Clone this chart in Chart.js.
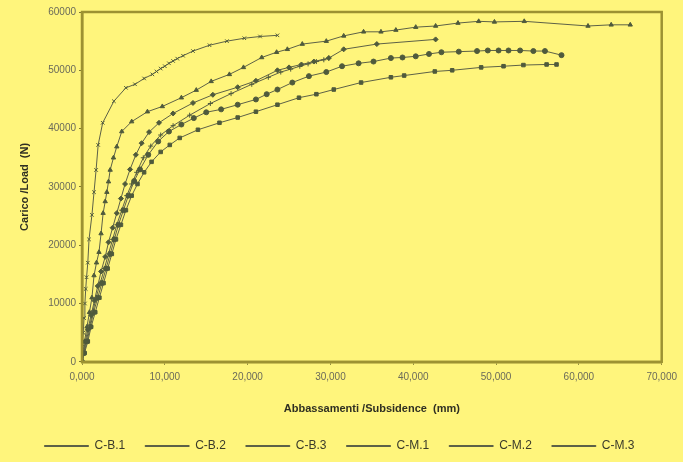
<!DOCTYPE html>
<html>
<head>
<meta charset="utf-8">
<script src="https://cdn.jsdelivr.net/npm/chart.js@4/dist/chart.umd.min.js"></script>
<style>
  html, body { margin: 0; padding: 0; background: #fff57c; }
  #wrap { width: 683px; height: 462px; }
</style>
</head>
<body>
<div id="wrap"><canvas id="loadChart" width="683" height="462"></canvas></div>
<script>
// Subsidence (mm) and load (N), one pair of arrays per test
const cb1X = [0, 0, 50, 150, 250, 350, 450, 550, 700, 850, 1200, 1450, 1700, 1950, 2500, 3850, 5300, 6400, 7500, 8500, 9000, 9500, 10000, 10500, 11000, 11500, 12200, 13400, 15400, 17500, 19600, 21500, 23600];
const cb1Y = [0, 1500, 3000, 5000, 7500, 10000, 12500, 14500, 17000, 21000, 25200, 29100, 32900, 37200, 41000, 44700, 47000, 47600, 48600, 49300, 49800, 50300, 50700, 51200, 51600, 52000, 52500, 53300, 54300, 55000, 55500, 55800, 56000];

const cb2X = [0, 150, 400, 700, 1100, 1500, 1900, 2300, 2800, 3200, 3700, 4200, 4700, 5200, 5800, 6500, 7200, 8100, 9300, 11000, 13400, 15800, 18800, 21000, 23600, 25000, 26500, 28000, 29800, 31600, 35600, 42700];
const cb2Y = [0, 1500, 3500, 5500, 8000, 10500, 13000, 15500, 18000, 20500, 23000, 25500, 28000, 30500, 33000, 35500, 37500, 39400, 41000, 42600, 44400, 45800, 47100, 48200, 50000, 50500, 51000, 51500, 52100, 53600, 54500, 55300];

const cb3X = [0, 100, 300, 600, 900, 1200, 1450, 1750, 2050, 2300, 2550, 2800, 3000, 3200, 3400, 3800, 4200, 4800, 6000, 7900, 9700, 12000, 13800, 15600, 17800, 19500, 21700, 23500, 24800, 26600, 29500, 31600, 34000, 36100, 37900, 40300, 42700, 45400, 47900, 49800, 53400, 61100, 63900, 66200];
const cb3Y = [0, 1500, 3500, 6000, 8500, 11000, 14800, 17000, 18800, 22000, 25500, 27500, 29100, 30900, 32900, 35000, 36900, 39500, 41200, 42900, 43800, 45300, 46600, 48100, 49300, 50500, 52200, 53100, 53600, 54500, 55000, 55900, 56600, 56600, 56900, 57400, 57600, 58100, 58400, 58300, 58400, 57600, 57800, 57800];

const cm1X = [0, 300, 700, 1100, 1600, 2100, 2600, 3100, 3600, 4100, 4700, 5300, 6000, 6700, 7500, 8400, 9500, 10600, 11800, 14000, 16600, 18800, 21000, 23600, 26200, 28300, 30400, 33700, 37300, 38900, 42600, 44700, 48200, 50900, 53300, 56100, 57300];
const cm1Y = [0, 1500, 3500, 6000, 8500, 11000, 13500, 16000, 18500, 21000, 23500, 26000, 28500, 30500, 32500, 34300, 36000, 37200, 38400, 39800, 41000, 41900, 42900, 44100, 45300, 45900, 46700, 47900, 48800, 49100, 49800, 50000, 50500, 50700, 50900, 51000, 51000];

const cm2X = [0, 250, 600, 1000, 1400, 1900, 2400, 2900, 3400, 3900, 4400, 5000, 5600, 6300, 7000, 8000, 9200, 10500, 12000, 13500, 15000, 16800, 18800, 21000, 22300, 23600, 25400, 27400, 29500, 31400, 33400, 35200, 37300, 38700, 40300, 41900, 43400, 45500, 47700, 49000, 50300, 51500, 52900, 54500, 55900, 57900];
const cm2Y = [0, 1500, 3500, 6000, 8500, 11000, 13500, 16000, 18500, 21000, 23500, 26000, 28500, 31000, 33000, 35500, 37800, 39500, 40700, 41800, 42800, 43300, 44100, 45000, 45900, 46700, 47900, 49000, 49700, 50700, 51200, 51500, 52100, 52200, 52400, 52800, 53100, 53200, 53300, 53400, 53400, 53400, 53400, 53300, 53300, 52600];

const cm3X = [0, 200, 500, 900, 1300, 1700, 2200, 2700, 3200, 3700, 4200, 4800, 5400, 6000, 6600, 7400, 8300, 9500, 11000, 13000, 15500, 18000, 20500, 22500, 24000, 25200, 26300, 27300, 28300, 29200, 29800];
const cm3Y = [0, 1500, 3500, 6000, 8500, 11000, 13500, 16000, 18500, 21000, 23500, 26000, 28500, 30500, 32500, 35000, 37000, 38900, 40500, 42300, 44300, 46000, 47600, 48800, 49700, 50200, 50700, 51100, 51500, 51800, 52100];

const seriesNames = ['C-B.1', 'C-B.2', 'C-B.3', 'C-M.1', 'C-M.2', 'C-M.3'];
const xTickLabels = ['0,000', '10,000', '20,000', '30,000', '40,000', '50,000', '60,000', '70,000'];
const yTickLabels = ['0', '10000', '20000', '30000', '40000', '50000', '60000'];

const pairUp = (xs, ys) => xs.map((x, i) => ({ x: x, y: ys[i] }));

const lineColor = '#5d6147';
const markStyles = ['crossRot', 'rectRot', 'triangle', 'rect', 'circle', 'cross'];
const allX = [cb1X, cb2X, cb3X, cm1X, cm2X, cm3X];
const allY = [cb1Y, cb2Y, cb3Y, cm1Y, cm2Y, cm3Y];

const datasets = seriesNames.map((name, i) => ({
    label: name,
    data: pairUp(allX[i], allY[i]),
    borderColor: lineColor,
    backgroundColor: '#4f5a3c',
    borderWidth: 1,
    pointStyle: markStyles[i],
    pointRadius: 2.5,
    pointBorderColor: '#4f5a3c',
    pointBackgroundColor: '#4f5a3c',
    tension: 0
}));

// box round the plot area (top and right edges like the original)
const frame = {
    id: 'frame',
    afterDraw(chart) {
        const a = chart.chartArea;
        const c = chart.ctx;
        c.save();
        c.strokeStyle = '#9d9232';
        c.lineWidth = 2.5;
        c.strokeRect(a.left, a.top, a.right - a.left, a.bottom - a.top);
        c.restore();
    }
};

new Chart(document.getElementById('loadChart').getContext('2d'), {
    type: 'line',
    data: { datasets: datasets },
    options: {
        responsive: false,
        animation: false,
        layout: { padding: { left: 14, right: 18, top: 12, bottom: 0 } },
        plugins: {
            legend: {
                position: 'bottom',
                labels: {
                    color: '#3a3a2a',
                    font: { family: 'Liberation Sans', size: 12 },
                    boxWidth: 44,
                    boxHeight: 1,
                    padding: 20
                }
            },
            tooltip: { enabled: false }
        },
        scales: {
            x: {
                type: 'linear',
                min: 0,
                max: 70000,
                ticks: {
                    stepSize: 10000,
                    padding: 6,
                    color: '#6a6a5a',
                    font: { family: 'Liberation Sans', size: 10 },
                    maxRotation: 0,
                    callback: (v) => xTickLabels[Math.round(v / 10000)]
                },
                grid: { drawOnChartArea: false, color: '#7d7530', tickLength: 3 },
                border: { color: '#9d9232', width: 2.5 },
                title: {
                    display: true,
                    text: 'Abbassamenti /Subsidence  (mm)',
                    color: '#2f2f22',
                    font: { family: 'Liberation Sans', size: 11, weight: 'bold' },
                    padding: { top: 14 }
                }
            },
            y: {
                min: 0,
                max: 60000,
                ticks: {
                    stepSize: 10000,
                    color: '#6a6a5a',
                    font: { family: 'Liberation Sans', size: 10 },
                    callback: (v) => yTickLabels[Math.round(v / 10000)]
                },
                grid: { drawOnChartArea: false, color: '#7d7530', tickLength: 3 },
                border: { color: '#9d9232', width: 2.5 },
                title: {
                    display: true,
                    text: 'Carico /Load  (N)',
                    color: '#2f2f22',
                    font: { family: 'Liberation Sans', size: 11, weight: 'bold' },
                    padding: { bottom: 14 }
                }
            }
        }
    },
    plugins: [frame]
});
</script>
</body>
</html>
